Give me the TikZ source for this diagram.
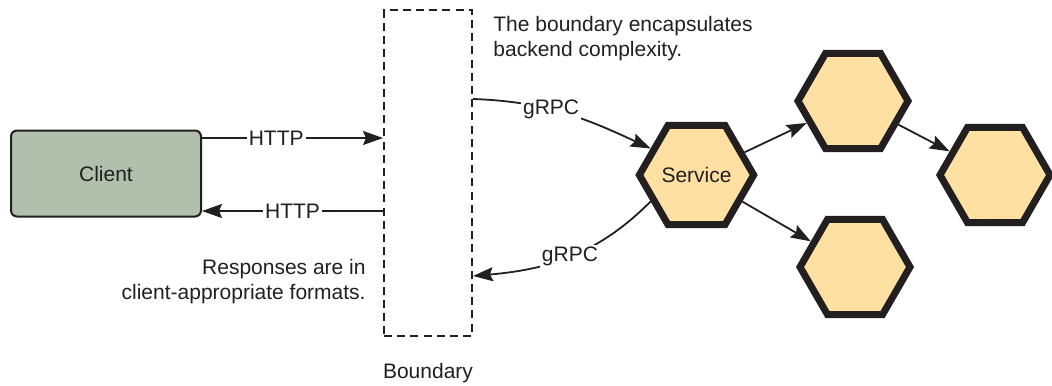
\documentclass[tikz,border=0pt]{standalone}
\usepackage{fontspec}
\setmainfont{Liberation Sans}
\usepackage{xcolor}
\usepackage{tikz}
\usetikzlibrary{arrows.meta, positioning, shapes.geometric}
\definecolor{ink}{HTML}{231F20}
\definecolor{clientfill}{HTML}{B1BFAD}
\definecolor{hexfill}{HTML}{FEE0A3}

\begin{document}
\begin{tikzpicture}[x=0.5pt, y=-0.5pt, >={Stealth[length=10pt, width=7pt, inset=1.5pt]},
    font=\fontsize{10.5pt}{12.6pt}\selectfont, color=ink,
    conn/.style={line width=0.9pt},
    lbl/.style={fill=white, inner sep=1pt},
    hexa/.style={regular polygon, regular polygon sides=6, minimum size=55pt,
      draw, fill=hexfill, line width=3.5pt, inner sep=0pt}]
  \useasboundingbox (0,0) rectangle (1052,385);

  % client box
  \node[draw, line width=1pt, rounded corners=3pt, fill=clientfill,
        minimum width=95pt, minimum height=43pt] (client) at (106,173.5) {Client};

  % dashed boundary
  \node[draw, dashed, line width=1pt, dash pattern=on 4pt off 2.6pt,
        minimum width=44pt, minimum height=163pt] (bnd) at (428,173) {};
  \node[anchor=base] (bndlbl) at (428,378) {Boundary};

  % services
  \node[hexa] (svc) at (696.5,175) {Service};
  \node[hexa] (h2) at (853,101) {};
  \node[hexa] (h3) at (995,175) {};
  \node[hexa] (h4) at (855,267) {};

  % levels of the connectors on the boundary
  \coordinate (yreq)  at (0,138);
  \coordinate (yresp) at (0,211);
  \coordinate (gtop)  at (bnd.east |- 0,99);
  \coordinate (gbot)  at (bnd.east |- 0,276);

  \draw[conn, ->] (client.east |- yreq) -- node[lbl, pos=0.41] {HTTP} (bnd.west |- yreq);
  \draw[conn, ->] (bnd.west |- yresp) -- node[lbl, pos=0.5] {HTTP} (client.east |- yresp);

  \draw[conn, ->] (gtop) to[out=-2, in=155] node[lbl, pos=0.42] {gRPC} (svc.150);
  \draw[conn, ->] (svc.210) to[out=225, in=5] node[lbl, pos=0.5] {gRPC} (gbot);

  \draw[conn, ->] (svc) -- (h2);
  \draw[conn, ->] (svc) -- (h4);
  \draw[conn, ->] (h2) -- (h3);

  % notes
  \node[anchor=north west, align=left, inner sep=0pt] (note1) at (493,16)
    {The boundary encapsulates\\backend complexity.};
  \node[anchor=north east, align=right, inner sep=0pt] (note2) at (366,259)
    {Responses are in\\client-appropriate formats.};
\end{tikzpicture}
\end{document}
